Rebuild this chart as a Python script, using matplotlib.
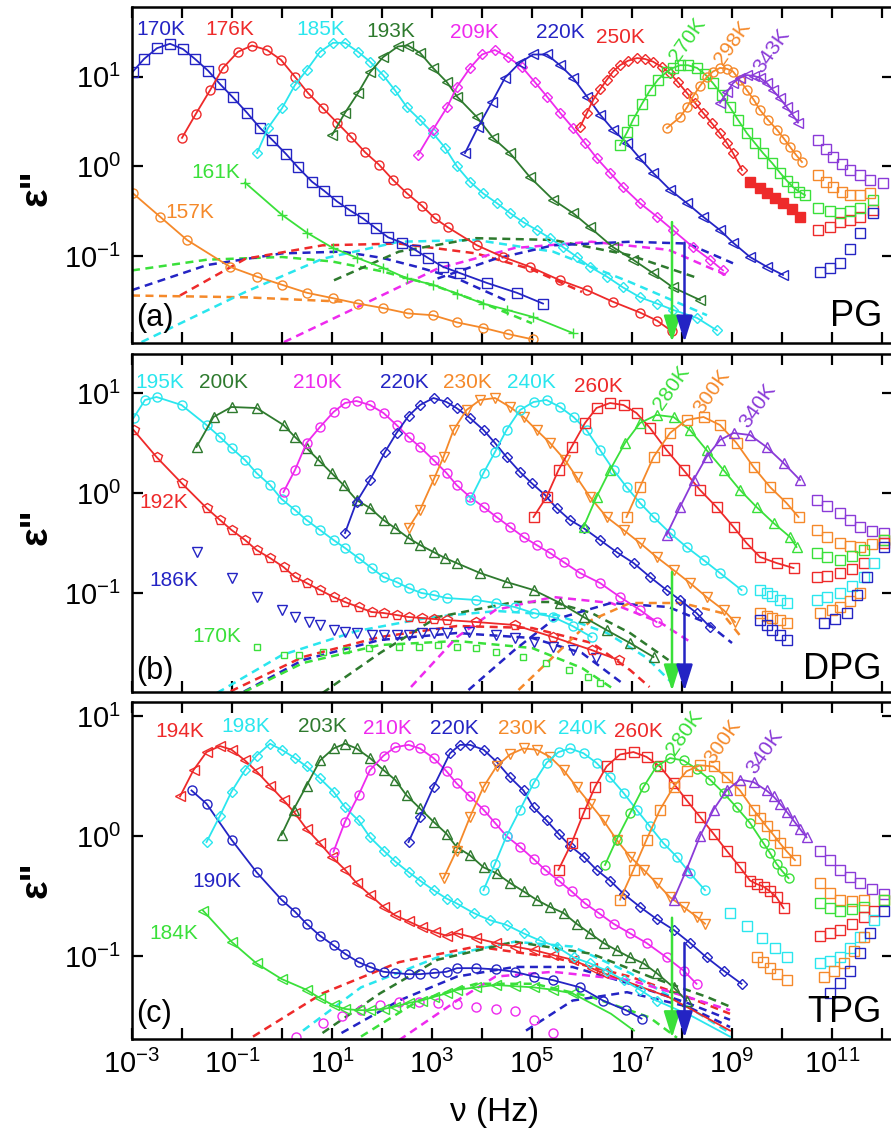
import numpy as np
import matplotlib
matplotlib.use("Agg")
import matplotlib.pyplot as plt
from matplotlib.ticker import LogLocator, FuncFormatter, NullLocator

plt.rcParams['font.family'] = ['Liberation Sans', 'DejaVu Sans']
plt.rcParams['mathtext.default'] = 'regular'

BLUE = '#2424c4'
RED = '#ee2a2a'
CYAN = '#2ae6ee'
DKGREEN = '#2e7a2e'
MAGENTA = '#ee2aee'
GREEN = '#3ae03a'
ORANGE = '#f5892a'
PURPLE = '#8a3ad8'

# all points are (log10 nu, log10 eps'')
# ---------------- panel (a) PG ----------------
a_170 = [(-2.98, 1.06), (-2.76, 1.20), (-2.5, 1.32), (-2.24, 1.37), (-1.98, 1.31), (-1.74, 1.2), (-1.48, 1.07),
         (-1.24, 0.92), (-0.98, 0.77), (-0.7, 0.60), (-0.44, 0.43), (-0.2, 0.30), (0.08, 0.14), (0.32, -0.01),
         (0.6, -0.17), (0.84, -0.27), (1.1, -0.39), (1.36, -0.49), (1.62, -0.58), (1.88, -0.69), (2.12, -0.79),
         (2.4, -0.85), (2.66, -0.93), (2.92, -1.02), (3.22, -1.12), (3.56, -1.19), (4.1, -1.30), (4.7, -1.41),
         (5.22, -1.53)]
a_176 = [(-2.0, 0.32), (-1.72, 0.59), (-1.44, 0.85), (-1.18, 1.10), (-0.88, 1.28), (-0.6, 1.35), (-0.3, 1.30),
         (-0.02, 1.19), (0.26, 1.0), (0.52, 0.82), (0.82, 0.65), (1.1, 0.49), (1.38, 0.33), (1.66, 0.16),
         (1.94, 0.02), (2.22, -0.15), (2.5, -0.30), (2.8, -0.44), (3.06, -0.58), (3.32, -0.68), (3.9, -0.88),
         (4.42, -1.01), (4.96, -1.12), (5.56, -1.27), (6.1, -1.38), (6.62, -1.51), (7.16, -1.63), (7.5, -1.72),
         (7.8, -1.84)]
a_185 = [(-0.5, 0.15), (-0.28, 0.43), (0.0, 0.65), (0.26, 0.91), (0.5, 1.08), (0.76, 1.28), (1.02, 1.38),
         (1.26, 1.38), (1.52, 1.28), (1.76, 1.17), (2.02, 1.02), (2.26, 0.85), (2.5, 0.66), (2.76, 0.52),
         (3.02, 0.37), (3.26, 0.21), (3.5, 0.0), (3.76, -0.17), (4.02, -0.30), (4.3, -0.41), (4.56, -0.52),
         (4.82, -0.62), (5.1, -0.71), (5.36, -0.80), (5.62, -0.90), (5.9, -1.01), (6.16, -1.12), (6.5, -1.23),
         (6.82, -1.35), (7.16, -1.46), (7.5, -1.53), (7.82, -1.60), (8.3, -1.69), (8.7, -1.83)]
a_193 = [(1.0, 0.35), (1.26, 0.60), (1.52, 0.82), (1.76, 1.05), (2.02, 1.22), (2.32, 1.34), (2.52, 1.35),
         (2.76, 1.27), (3.02, 1.10), (3.3, 0.94), (3.5, 0.78), (3.9, 0.55), (4.22, 0.32), (4.56, 0.15),
         (4.96, -0.12), (5.42, -0.37), (5.82, -0.52), (6.16, -0.68), (6.62, -0.90), (7.02, -1.04),
         (7.42, -1.19), (7.82, -1.35), (8.36, -1.49)]
a_209 = [(2.72, 0.13), (3.02, 0.41), (3.3, 0.66), (3.5, 0.89), (3.76, 1.10), (4.0, 1.25), (4.26, 1.30),
         (4.52, 1.22), (4.8, 1.11), (5.06, 0.94), (5.3, 0.78), (5.56, 0.60), (5.82, 0.43), (6.06, 0.26),
         (6.3, 0.09), (6.56, -0.07), (6.82, -0.23), (7.16, -0.41), (7.5, -0.56), (7.82, -0.71), (8.22, -0.90),
         (8.56, -1.04), (8.82, -1.16)]
a_220 = [(3.66, 0.15), (3.92, 0.44), (4.2, 0.72), (4.46, 0.99), (4.76, 1.16), (5.02, 1.25), (5.3, 1.25),
         (5.56, 1.13), (5.82, 0.99), (6.1, 0.78), (6.36, 0.58), (6.62, 0.41), (6.9, 0.26), (7.16, 0.09),
         (7.42, -0.07), (7.76, -0.26), (8.1, -0.41), (8.42, -0.56), (8.76, -0.71), (9.02, -0.85), (9.36, -1.01),
         (9.7, -1.12), (10.02, -1.21)]
a_250 = [(5.96, 0.44), (6.1, 0.6), (6.22, 0.74), (6.36, 0.86), (6.5, 0.97), (6.62, 1.06), (6.76, 1.13),
         (6.92, 1.18), (7.1, 1.21), (7.26, 1.20), (7.42, 1.17), (7.6, 1.11), (7.76, 1.04), (7.92, 0.94),
         (8.1, 0.82), (8.26, 0.71), (8.42, 0.60), (8.6, 0.48), (8.76, 0.37), (8.9, 0.26), (9.02, 0.15),
         (9.2, -0.04)]
a_250_mid = [(9.36, -0.17), (9.55, -0.24), (9.7, -0.30), (9.85, -0.35), (10.02, -0.41), (10.2, -0.48),
             (10.36, -0.56)]
a_250_hf = [(10.72, -0.71), (10.95, -0.68), (11.16, -0.62), (11.36, -0.60), (11.56, -0.56), (11.82, -0.49)]
a_270 = [(6.76, 0.24), (6.9, 0.38), (7.02, 0.52), (7.2, 0.70), (7.36, 0.85), (7.52, 0.97), (7.7, 1.06),
         (7.82, 1.10), (7.96, 1.13), (8.12, 1.13), (8.3, 1.10), (8.46, 1.03), (8.62, 0.93), (8.8, 0.80),
         (8.96, 0.66), (9.12, 0.52), (9.3, 0.37), (9.46, 0.26), (9.62, 0.15), (9.8, 0.04), (9.96, -0.07),
         (10.1, -0.16), (10.22, -0.23), (10.34, -0.28), (10.46, -0.32)]
a_270_hf = [(10.72, -0.46), (10.95, -0.50), (11.16, -0.52), (11.36, -0.50), (11.56, -0.46), (11.82, -0.37)]
a_298 = [(7.7, 0.43), (7.96, 0.55), (8.1, 0.66), (8.22, 0.78), (8.36, 0.90), (8.5, 1.0), (8.62, 1.06),
         (8.76, 1.10), (8.9, 1.09), (9.02, 1.06), (9.16, 0.96), (9.3, 0.85), (9.44, 0.74), (9.56, 0.63),
         (9.72, 0.52), (9.9, 0.41), (10.04, 0.31), (10.16, 0.22), (10.28, 0.13), (10.4, 0.05)]
a_298_hf = [(10.72, -0.09), (10.88, -0.17), (11.02, -0.23), (11.2, -0.28), (11.36, -0.32), (11.56, -0.32),
            (11.76, -0.30)]
a_343 = [(8.76, 0.71), (8.9, 0.83), (9.02, 0.93), (9.16, 0.99), (9.3, 1.02), (9.44, 1.01), (9.56, 0.99),
         (9.7, 0.93), (9.82, 0.85), (9.96, 0.76), (10.1, 0.66), (10.22, 0.57), (10.32, 0.49)]
a_343_hf = [(10.72, 0.30), (10.88, 0.20), (11.02, 0.11), (11.2, 0.03), (11.36, -0.04), (11.56, -0.10),
            (11.76, -0.15), (12.02, -0.18)]
a_220_hf = [(10.76, -1.18), (10.96, -1.13), (11.16, -1.08), (11.36, -0.92), (11.56, -0.74), (11.82, -0.52)]
a_161 = [(-0.74, -0.18), (0.0, -0.54), (0.5, -0.74), (1.02, -0.91), (1.5, -1.02), (2.02, -1.13), (2.5, -1.25),
         (3.02, -1.32), (3.5, -1.42), (4.02, -1.53), (4.5, -1.60), (5.02, -1.68), (5.82, -1.86)]
a_157 = [(-2.98, -0.30), (-2.44, -0.56), (-1.9, -0.82), (-1.04, -1.12), (-0.5, -1.23), (0.0, -1.32),
         (0.5, -1.41), (1.02, -1.47), (1.52, -1.53), (2.02, -1.58), (2.52, -1.64), (3.02, -1.66), (3.5, -1.74),
         (4.02, -1.80), (4.52, -1.87), (5.02, -1.93)]
# dashed secondary-relaxation components
ad_161 = [(-3.0, -1.16), (-1.5, -1.04), (0.0, -1.01), (1.0, -1.06), (2.0, -1.17), (3.0, -1.32), (4.0, -1.52),
          (5.0, -1.75)]
ad_170 = [(-3.0, -1.38), (-1.5, -1.10), (0.0, -0.97), (1.2, -0.95), (2.0, -1.02), (2.7, -1.12), (3.5, -1.25),
          (4.5, -1.5)]
ad_176 = [(-2.04, -1.44), (-0.73, -1.03), (0.81, -0.88), (2.34, -0.86), (3.88, -0.97), (5.0, -1.15), (6.0, -1.4)]
ad_157 = [(-3.0, -1.44), (-0.73, -1.46), (1.27, -1.51)]
ad_185 = [(-2.81, -1.96), (-0.73, -1.40), (0.81, -1.03), (2.34, -0.84), (3.88, -0.82), (5.42, -0.95),
          (6.96, -1.29), (8.5, -1.66)]
ad_193 = [(1.04, -1.27), (2.34, -0.95), (3.88, -0.80), (5.42, -0.82), (6.96, -0.99), (8.34, -1.25)]
ad_209 = [(0.04, -1.96), (1.58, -1.55), (3.11, -1.14), (4.65, -0.91), (6.19, -0.84), (7.73, -0.93),
          (8.96, -1.23)]
ad_220 = [(3.11, -1.25), (4.27, -1.03), (5.42, -0.88), (6.96, -0.84), (8.11, -0.86), (9.02, -1.08)]
a_arrows = [(7.8, -0.62, GREEN), (8.05, -0.85, BLUE)]

# ---------------- panel (b) DPG ----------------
b_195 = [(-2.97, 0.75), (-2.74, 0.93), (-2.51, 0.96), (-2.01, 0.88), (-1.51, 0.68), (-1.24, 0.56),
         (-1.01, 0.45), (-0.74, 0.33), (-0.51, 0.20), (-0.24, 0.08), (-0.01, -0.06), (0.26, -0.17),
         (0.49, -0.27), (0.76, -0.37), (1.03, -0.47), (1.26, -0.55), (1.53, -0.65), (1.79, -0.75),
         (2.03, -0.84), (2.29, -0.89), (2.53, -0.95), (2.79, -1.0), (3.03, -1.02), (3.29, -1.05), (3.88, -1.07),
         (4.27, -1.10), (4.65, -1.14), (5.03, -1.20), (5.42, -1.24), (5.81, -1.33), (6.19, -1.44)]
b_200 = [(-1.71, 0.46), (-1.37, 0.76), (-1.01, 0.86), (-0.51, 0.85), (0.03, 0.68), (0.26, 0.56), (0.49, 0.45),
         (0.73, 0.33), (0.99, 0.20), (1.23, 0.08), (1.49, -0.07), (1.76, -0.15), (2.03, -0.27), (2.26, -0.35),
         (2.53, -0.45), (2.76, -0.52), (3.03, -0.59), (3.26, -0.65), (3.49, -0.70), (3.96, -0.80),
         (4.49, -0.89), (5.03, -0.97), (5.56, -1.10), (6.03, -1.24), (6.49, -1.37), (6.96, -1.50),
         (7.43, -1.64)]
b_210 = [(0.03, 0.01), (0.26, 0.23), (0.49, 0.50), (0.76, 0.66), (1.03, 0.81), (1.26, 0.90), (1.49, 0.92),
         (1.76, 0.88), (2.03, 0.80), (2.29, 0.68), (2.53, 0.56), (2.76, 0.46), (3.03, 0.33), (3.29, 0.20),
         (3.49, 0.08), (3.76, -0.04), (4.03, -0.14), (4.29, -0.24), (4.56, -0.34), (4.83, -0.44), (5.09, -0.52),
         (5.36, -0.60), (5.63, -0.69), (5.96, -0.80), (6.36, -0.90), (6.76, -1.04), (7.16, -1.17), (7.49, -1.29)]
b_220 = [(1.26, -0.40), (1.49, -0.09), (1.76, 0.13), (2.06, 0.41), (2.29, 0.60), (2.53, 0.77), (2.76, 0.88),
         (3.03, 0.95), (3.29, 0.91), (3.49, 0.85), (3.76, 0.75), (4.03, 0.63), (4.26, 0.50), (4.49, 0.36),
         (4.76, 0.21), (4.99, 0.10), (5.26, -0.02), (5.49, -0.15), (5.76, -0.27), (6.03, -0.35), (6.36, -0.47),
         (6.69, -0.59), (7.03, -0.70), (7.36, -0.84), (7.69, -0.97), (7.96, -1.07), (8.29, -1.20), (8.56, -1.34)]
b_230 = [(2.53, -0.35), (2.76, -0.17), (3.03, 0.13), (3.23, 0.36), (3.43, 0.63), (3.69, 0.83), (3.96, 0.93),
         (4.26, 0.95), (4.56, 0.86), (4.83, 0.76), (5.09, 0.63), (5.36, 0.50), (5.66, 0.33), (5.89, 0.16),
         (6.16, -0.04), (6.49, -0.24), (6.83, -0.37), (7.16, -0.50), (7.49, -0.64), (7.83, -0.77), (8.16, -0.90),
         (8.49, -1.04), (8.83, -1.17), (9.06, -1.29)]
b_240 = [(3.76, -0.07), (4.03, 0.20), (4.26, 0.41), (4.49, 0.63), (4.76, 0.83), (5.03, 0.91), (5.29, 0.93),
         (5.56, 0.86), (5.83, 0.76), (6.09, 0.63), (6.36, 0.43), (6.63, 0.23), (6.89, 0.06), (7.16, -0.10),
         (7.43, -0.24), (7.76, -0.40), (8.09, -0.54), (8.43, -0.67), (8.76, -0.80), (9.19, -0.97)]
b_260 = [(5.03, -0.24), (5.29, -0.04), (5.53, 0.23), (5.79, 0.46), (6.06, 0.70), (6.29, 0.85), (6.56, 0.90),
         (6.83, 0.88), (7.09, 0.80), (7.36, 0.65), (7.69, 0.43), (8.03, 0.23), (8.36, 0.03), (8.69, -0.14),
         (9.03, -0.34), (9.29, -0.50), (9.56, -0.64), (9.89, -0.70), (10.23, -0.75)]
b_280 = [(6.03, -0.34), (6.29, -0.04), (6.56, 0.23), (6.86, 0.50), (7.16, 0.70), (7.49, 0.78), (7.83, 0.76),
         (8.16, 0.63), (8.49, 0.43), (8.83, 0.23), (9.16, 0.03), (9.49, -0.14), (9.83, -0.30), (10.16, -0.44),
         (10.29, -0.54)]
b_300 = [(6.89, -0.24), (7.16, 0.06), (7.43, 0.36), (7.76, 0.60), (8.09, 0.73), (8.43, 0.76), (8.76, 0.68),
         (9.09, 0.50), (9.43, 0.26), (9.76, 0.06), (10.09, -0.10), (10.33, -0.24)]
b_340 = [(7.69, -0.42), (7.96, -0.14), (8.23, 0.13), (8.49, 0.36), (8.76, 0.53), (9.03, 0.60), (9.36, 0.58),
         (9.69, 0.46), (10.03, 0.30), (10.36, 0.13)]
b_192 = [(-2.97, 0.63), (-2.51, 0.36), (-2.01, 0.10), (-1.51, -0.15), (-1.24, -0.27), (-1.01, -0.37),
         (-0.74, -0.47), (-0.51, -0.57), (-0.24, -0.65), (0.03, -0.74), (0.26, -0.84), (0.49, -0.90),
         (0.76, -0.97), (1.03, -1.04), (1.26, -1.09), (1.53, -1.14), (1.79, -1.19), (2.03, -1.20), (2.29, -1.22),
         (2.53, -1.24), (2.79, -1.25), (3.03, -1.26), (3.29, -1.27), (3.88, -1.29), (4.65, -1.32), (5.42, -1.44),
         (6.19, -1.57), (6.73, -1.67)]
b_186 = [(-1.71, -0.59), (-1.01, -0.85), (-0.51, -1.04), (-0.01, -1.17), (0.26, -1.24), (0.53, -1.29),
         (0.76, -1.32), (1.03, -1.37), (1.26, -1.39), (1.49, -1.40), (1.79, -1.42), (2.03, -1.42), (2.29, -1.42),
         (2.53, -1.42), (2.79, -1.40), (3.03, -1.40), (3.29, -1.40), (3.73, -1.39), (4.27, -1.42), (4.65, -1.45),
         (5.04, -1.49), (5.42, -1.54), (5.81, -1.57), (6.27, -1.65)]
b_170 = [(-0.5, -1.54), (0.04, -1.62), (0.34, -1.62), (0.81, -1.59), (1.27, -1.57), (1.73, -1.55), (2.34, -1.54),
         (2.73, -1.54), (3.11, -1.52), (3.5, -1.54), (3.88, -1.55), (4.27, -1.59), (4.81, -1.64), (5.27, -1.70),
         (5.73, -1.77), (6.11, -1.84), (6.35, -1.90)]
bh_340 = [(10.69, -0.07), (10.9, -0.13), (11.16, -0.20), (11.36, -0.27), (11.56, -0.34), (11.8, -0.38),
          (12.03, -0.40)]
bh_300 = [(10.69, -0.37), (10.9, -0.44), (11.16, -0.50), (11.36, -0.53), (11.56, -0.54), (11.8, -0.51),
          (12.03, -0.47)]
bh_280 = [(10.69, -0.60), (10.9, -0.64), (11.16, -0.67), (11.4, -0.63), (11.63, -0.57), (12.03, -0.47)]
bh_260 = [(10.69, -0.84), (10.9, -0.83), (11.16, -0.80), (11.4, -0.76), (11.63, -0.70), (12.03, -0.50)]
bh_240 = [(10.69, -1.07), (10.9, -1.04), (11.16, -1.0), (11.4, -0.93), (11.63, -0.84), (11.83, -0.70)]
bh_230 = [(10.76, -1.20), (11.0, -1.17), (11.16, -1.14), (11.36, -1.08), (11.56, -1.0)]
bh_220 = [(10.83, -1.30), (11.06, -1.26), (11.29, -1.20), (11.49, -1.02), (11.69, -0.84), (12.03, -0.54)]
bm_240 = [(9.56, -0.97), (9.7, -1.0), (9.8, -1.03), (9.95, -1.07), (10.09, -1.10)]
bm_230 = [(9.56, -1.20), (9.7, -1.23), (9.8, -1.25), (9.95, -1.27), (10.09, -1.30)]
bm_220 = [(9.56, -1.27), (9.7, -1.32), (9.8, -1.37), (9.95, -1.42), (10.09, -1.47)]
bd_195 = [(-1.3, -2.0), (0.0, -1.62), (1.5, -1.38), (3.0, -1.24), (4.3, -1.18), (5.5, -1.22), (6.5, -1.40),
          (7.3, -1.65), (7.8, -1.9)]
bd_192 = [(-1.27, -2.04), (0.42, -1.64), (1.96, -1.44), (3.5, -1.33), (5.0, -1.35), (6.2, -1.50), (6.96, -1.77),
          (7.35, -1.94)]
bd_186 = [(-1.0, -2.05), (0.42, -1.67), (1.96, -1.47), (3.5, -1.40), (5.0, -1.45), (6.0, -1.6), (6.8, -1.9)]
bd_170 = [(-1.0, -2.05), (0.42, -1.70), (1.96, -1.52), (3.5, -1.48), (5.0, -1.55), (6.0, -1.75), (6.6, -1.95)]
bd_200 = [(0.81, -2.0), (1.96, -1.6), (3.11, -1.24), (4.65, -1.09), (5.42, -1.09), (6.19, -1.2), (6.96, -1.4),
          (7.73, -1.67)]
bd_210 = [(2.58, -1.94), (3.5, -1.44), (4.27, -1.17), (5.42, -1.04), (6.58, -1.10), (7.58, -1.30), (8.2, -1.5)]
bd_220 = [(3.73, -1.97), (4.65, -1.57), (5.42, -1.27), (6.58, -1.10), (7.73, -1.14), (8.5, -1.30), (9.0, -1.5)]
bd_230 = [(4.73, -1.97), (5.42, -1.64), (6.19, -1.27), (6.96, -1.10), (8.0, -1.10), (8.8, -1.2), (9.2, -1.45)]
b_arrows = [(7.8, -0.79, GREEN), (8.05, -1.07, BLUE)]

# ---------------- panel (c) TPG ----------------
c_194 = [(-2.04, 0.33), (-1.77, 0.55), (-1.51, 0.70), (-1.24, 0.75), (-1.01, 0.72), (-0.74, 0.63), (-0.51, 0.54),
         (-0.24, 0.42), (0.03, 0.30), (0.26, 0.19), (0.49, 0.06), (0.76, -0.06), (0.99, -0.17), (1.26, -0.28),
         (1.49, -0.39), (1.76, -0.49), (2.03, -0.59), (2.26, -0.66), (2.53, -0.71), (2.79, -0.76), (3.06, -0.80),
         (3.29, -0.83), (3.5, -0.81), (3.88, -0.85), (4.27, -0.89), (4.65, -0.92), (5.04, -0.95), (5.42, -0.99),
         (5.81, -1.03), (6.19, -1.10), (6.42, -1.14)]
c_194_fit = [(6.42, -1.14), (7.73, -1.34), (8.96, -1.62)]
c_198 = [(-1.51, -0.05), (-1.24, 0.17), (-1.01, 0.37), (-0.74, 0.55), (-0.51, 0.67), (-0.24, 0.77),
         (-0.01, 0.72), (0.26, 0.65), (0.49, 0.58), (0.76, 0.48), (1.03, 0.37), (1.26, 0.24), (1.53, 0.13),
         (1.76, -0.01), (2.03, -0.12), (2.26, -0.21), (2.53, -0.30), (2.76, -0.37), (3.03, -0.45), (3.29, -0.52),
         (3.49, -0.56), (3.83, -0.64), (4.16, -0.70), (4.49, -0.74), (4.83, -0.81), (5.16, -0.87), (5.49, -0.92),
         (5.83, -1.01), (6.16, -1.06), (6.49, -1.12), (6.83, -1.20), (7.16, -1.28), (7.49, -1.37)]
c_198_fit = [(7.49, -1.37), (8.2, -1.5), (8.96, -1.67)]
c_203 = [(-0.01, 0.01), (0.23, 0.22), (0.49, 0.42), (0.76, 0.63), (1.03, 0.73), (1.26, 0.77), (1.49, 0.73),
         (1.76, 0.65), (2.03, 0.55), (2.26, 0.47), (2.49, 0.34), (2.76, 0.23), (3.03, 0.12), (3.29, 0.02),
         (3.49, -0.09), (3.76, -0.16), (4.03, -0.26), (4.29, -0.31), (4.56, -0.39), (4.83, -0.46), (5.09, -0.53),
         (5.36, -0.59), (5.63, -0.64), (5.89, -0.73), (6.16, -0.81), (6.43, -0.89), (6.69, -0.95), (6.96, -1.01),
         (7.23, -1.06), (7.49, -1.14), (7.83, -1.26), (8.09, -1.37)]
c_210 = [(1.03, -0.13), (1.26, 0.12), (1.53, 0.34), (1.76, 0.55), (2.03, 0.67), (2.26, 0.74), (2.53, 0.76),
         (2.76, 0.73), (3.03, 0.65), (3.29, 0.54), (3.49, 0.44), (3.76, 0.33), (4.03, 0.22), (4.26, 0.11),
         (4.49, 0.0), (4.76, -0.09), (5.03, -0.19), (5.26, -0.28), (5.53, -0.37), (5.79, -0.46), (6.06, -0.56),
         (6.33, -0.64), (6.63, -0.73), (6.96, -0.81), (7.29, -0.89), (7.69, -1.01), (8.03, -1.12), (8.29, -1.23)]
c_220 = [(2.53, -0.05), (2.76, 0.16), (3.03, 0.41), (3.36, 0.69), (3.56, 0.76), (3.76, 0.76), (4.03, 0.72),
         (4.29, 0.62), (4.56, 0.49), (4.83, 0.38), (5.03, 0.24), (5.29, 0.13), (5.53, 0.02), (5.76, -0.08),
         (6.03, -0.17), (6.29, -0.28), (6.56, -0.37), (6.83, -0.48), (7.16, -0.59), (7.49, -0.69), (7.83, -0.78),
         (8.16, -0.89), (8.49, -1.01), (8.83, -1.12), (9.19, -1.23)]
c_230 = [(3.23, -0.35), (3.49, -0.12), (3.76, 0.16), (4.03, 0.41), (4.29, 0.58), (4.56, 0.68), (4.83, 0.73),
         (5.09, 0.72), (5.36, 0.66), (5.63, 0.55), (5.89, 0.41), (6.16, 0.27), (6.43, 0.13), (6.69, -0.03),
         (6.96, -0.17), (7.23, -0.28), (7.49, -0.39), (7.76, -0.51), (8.03, -0.59), (8.29, -0.67), (8.46, -0.73)]
c_240 = [(4.03, -0.45), (4.26, -0.23), (4.49, 0.0), (4.76, 0.22), (5.03, 0.44), (5.29, 0.61), (5.53, 0.70),
         (5.76, 0.73), (6.03, 0.69), (6.29, 0.61), (6.56, 0.49), (6.83, 0.36), (7.09, 0.22), (7.36, 0.08),
         (7.63, -0.06), (7.89, -0.17), (8.16, -0.31), (8.46, -0.45)]
c_260 = [(5.53, -0.28), (5.79, -0.06), (6.03, 0.19), (6.26, 0.41), (6.49, 0.58), (6.76, 0.68), (7.03, 0.70),
         (7.29, 0.66), (7.56, 0.58), (7.83, 0.44), (8.09, 0.30), (8.36, 0.16), (8.63, 0.02), (8.89, -0.12),
         (9.16, -0.26), (9.36, -0.37), (9.5, -0.40), (9.63, -0.42), (9.76, -0.46), (9.89, -0.51), (10.03, -0.60)]
c_280 = [(6.46, -0.24), (6.69, -0.03), (6.96, 0.19), (7.23, 0.41), (7.49, 0.58), (7.76, 0.65), (8.03, 0.63),
         (8.29, 0.56), (8.56, 0.47), (8.83, 0.36), (9.09, 0.24), (9.36, 0.11), (9.63, -0.06), (9.76, -0.14),
         (9.89, -0.23), (10.0, -0.29), (10.13, -0.35)]
c_300 = [(6.76, -0.53), (7.03, -0.28), (7.29, -0.03), (7.56, 0.22), (7.83, 0.41), (8.09, 0.54), (8.36, 0.59),
         (8.63, 0.58), (8.89, 0.49), (9.16, 0.38), (9.43, 0.22), (9.56, 0.15), (9.69, 0.08), (9.83, 0.01),
         (9.96, -0.06), (10.1, -0.13), (10.26, -0.20)]
c_340 = [(7.83, -0.53), (8.09, -0.28), (8.36, 0.0), (8.63, 0.22), (8.89, 0.38), (9.16, 0.47), (9.43, 0.45),
         (9.69, 0.38), (9.83, 0.33), (9.96, 0.27), (10.1, 0.20), (10.23, 0.13), (10.36, 0.06), (10.49, -0.01)]
c_190 = [(-1.81, 0.38), (-1.51, 0.27), (-1.01, -0.03), (-0.51, -0.30), (-0.01, -0.53), (0.26, -0.63),
         (0.49, -0.73), (0.76, -0.83), (1.03, -0.91), (1.26, -0.98), (1.53, -1.05), (1.76, -1.09), (2.03, -1.13),
         (2.26, -1.14), (2.53, -1.15), (2.76, -1.15), (3.03, -1.14), (3.29, -1.13), (3.5, -1.10), (3.88, -1.10),
         (4.27, -1.11), (4.65, -1.13), (5.04, -1.17), (5.42, -1.20), (5.96, -1.26), (6.42, -1.37), (6.88, -1.45),
         (7.19, -1.52)]
c_184 = [(-1.58, -0.62), (-1.01, -0.88), (-0.51, -1.06), (-0.01, -1.19), (0.49, -1.28), (0.76, -1.35),
         (1.03, -1.41), (1.26, -1.44), (1.53, -1.45), (1.76, -1.45), (2.03, -1.44), (2.26, -1.42), (2.53, -1.39),
         (2.79, -1.37), (3.03, -1.34), (3.29, -1.31), (3.5, -1.28), (3.88, -1.26), (4.27, -1.24), (4.65, -1.25),
         (5.04, -1.26), (5.42, -1.28), (5.81, -1.31)]
c_184_fit = [(5.81, -1.31), (6.58, -1.48), (7.04, -1.62)]
c_low = [(0.27, -1.67), (0.81, -1.56), (1.2, -1.50), (1.58, -1.45), (1.96, -1.41), (2.34, -1.38), (2.73, -1.38),
         (3.11, -1.39), (3.5, -1.40), (3.88, -1.42), (4.27, -1.44), (4.65, -1.46), (5.04, -1.53), (5.42, -1.64)]
ch_340 = [(10.76, -0.12), (10.96, -0.20), (11.16, -0.28), (11.36, -0.34), (11.56, -0.39), (11.8, -0.44),
          (12.03, -0.48)]
ch_300 = [(10.76, -0.39), (10.96, -0.47), (11.16, -0.53), (11.4, -0.54), (11.63, -0.53), (12.03, -0.53)]
ch_280 = [(10.76, -0.56), (10.96, -0.60), (11.16, -0.62), (11.4, -0.61), (11.63, -0.59), (12.03, -0.53)]
ch_260 = [(10.76, -0.83), (10.96, -0.81), (11.16, -0.78), (11.4, -0.73), (11.63, -0.67), (11.83, -0.62)]
ch_240 = [(10.76, -1.06), (10.96, -1.04), (11.16, -1.01), (11.36, -0.93), (11.56, -0.84), (11.83, -0.70)]
ch_230 = [(10.83, -1.17), (11.03, -1.12), (11.23, -1.06), (11.43, -0.96), (11.63, -0.84)]
ch_220 = [(10.96, -1.31), (11.16, -1.22), (11.36, -1.12), (11.56, -0.97), (11.76, -0.81), (12.03, -0.62)]
cm_240 = [(8.96, -0.64), (9.3, -0.75), (9.6, -0.85), (9.85, -0.93), (10.09, -1.01)]
cm_230 = [(9.49, -1.01), (9.62, -1.05), (9.75, -1.10), (9.9, -1.15), (10.09, -1.20)]
cd_194 = [(-0.58, -1.67), (0.81, -1.31), (2.34, -1.05), (3.88, -0.92), (5.42, -1.01), (6.96, -1.17),
          (8.11, -1.34), (8.96, -1.48)]
cd_198 = [(0.42, -1.62), (1.58, -1.26), (3.11, -1.01), (4.65, -0.88), (5.81, -0.92), (6.96, -1.14),
          (8.11, -1.42), (8.96, -1.64)]
cd_203 = [(0.81, -1.64), (1.96, -1.31), (3.11, -1.03), (4.65, -0.88), (6.19, -0.98), (7.35, -1.17),
          (8.5, -1.34), (8.96, -1.42)]
cd_190 = [(1.19, -1.64), (2.34, -1.37), (3.5, -1.17), (4.65, -1.09), (5.81, -1.09), (6.96, -1.23),
          (8.11, -1.39), (8.96, -1.53)]
cd_184 = [(1.58, -1.67), (2.73, -1.37), (3.88, -1.23), (5.04, -1.23), (6.19, -1.34), (7.35, -1.51), (7.9, -1.68)]
cd_210 = [(2.34, -1.70), (3.5, -1.37), (4.27, -1.17), (5.42, -1.13), (6.96, -1.20), (8.11, -1.34),
          (8.96, -1.45)]
cd_220 = [(4.88, -1.62), (5.81, -1.37), (6.9, -1.30), (8.11, -1.42), (8.96, -1.59)]
c_arrows = [(7.8, -0.68, GREEN), (8.05, -0.89, BLUE)]

# (text, log nu, log eps, colour, rotation)
a_labels = [('170K', -2.42, 1.525, BLUE, 0), ('176K', -1.04, 1.525, RED, 0), ('185K', 0.78, 1.525, CYAN, 0),
            ('193K', 2.18, 1.51, DKGREEN, 0), ('209K', 3.84, 1.49, MAGENTA, 0), ('220K', 5.56, 1.49, BLUE, 0),
            ('250K', 6.76, 1.44, RED, 0), ('270K', 8.12, 1.41, GREEN, 55), ('298K', 9.0, 1.38, ORANGE, 55),
            ('343K', 9.8, 1.29, PURPLE, 55), ('161K', -1.32, -0.07, GREEN, 0), ('157K', -1.84, -0.51, ORANGE, 0)]
b_labels = [('195K', -2.44, 1.10, CYAN, 0), ('200K', -1.16, 1.10, DKGREEN, 0), ('210K', 0.70, 1.10, MAGENTA, 0),
            ('220K', 2.44, 1.11, BLUE, 0), ('230K', 3.70, 1.11, ORANGE, 0), ('240K', 4.98, 1.11, CYAN, 0),
            ('260K', 6.32, 1.06, RED, 0), ('280K', 7.8, 1.05, GREEN, 55), ('300K', 8.6, 1.01, ORANGE, 55),
            ('340K', 9.52, 0.87, PURPLE, 55), ('192K', -2.36, -0.10, RED, 0), ('186K', -2.16, -0.87, BLUE, 0),
            ('170K', -1.30, -1.44, GREEN, 0)]
c_labels = [('194K', -2.04, 0.87, RED, 0), ('198K', -0.72, 0.91, CYAN, 0), ('203K', 0.8, 0.91, DKGREEN, 0),
            ('210K', 2.1, 0.90, MAGENTA, 0), ('220K', 3.44, 0.90, BLUE, 0), ('230K', 4.8, 0.90, ORANGE, 0),
            ('240K', 6.0, 0.90, CYAN, 0), ('260K', 7.12, 0.87, RED, 0), ('280K', 8.06, 0.86, GREEN, 55),
            ('300K', 8.82, 0.79, ORANGE, 55), ('340K', 9.66, 0.70, PURPLE, 55), ('190K', -1.30, -0.38, BLUE, 0),
            ('184K', -2.16, -0.81, GREEN, 0)]


def draw(ax, pts, color, marker='', ls='-', ms=6.5, filled=False, lw=1.3):
    lf, le = zip(*pts)
    ax.plot(10 ** np.array(lf), 10 ** np.array(le), ls=ls, lw=lw, color=color, marker=marker, ms=ms,
            mfc=color if filled else 'none', mec=color, mew=1.0)


def dashed(ax, pts, color):
    draw(ax, pts, color, ls=(0, (3.2, 2.2)), lw=1.8)


def arrows(ax, items, ybottom):
    for lf, ltop, col in items:
        ax.annotate('', xy=(10 ** lf, 10 ** ybottom), xytext=(10 ** lf, 10 ** ltop),
                    arrowprops=dict(arrowstyle='-|>,head_length=0.8,head_width=0.25', color=col, lw=1.8,
                                    mutation_scale=20, shrinkA=0, shrinkB=0))


def labels(ax, items):
    for txt, lf, le, col, rot in items:
        ax.text(10 ** lf, 10 ** le, txt, color=col, fontsize=15, rotation=rot, ha='center', va='center')


fig = plt.figure(figsize=(8.91, 11.4), dpi=100)
L, W = 132 / 891, 761 / 891
ax_a = fig.add_axes([L, 797 / 1140, W, 336 / 1140])
ax_b = fig.add_axes([L, 448 / 1140, W, 338 / 1140])
ax_c = fig.add_axes([L, 101 / 1140, W, 337 / 1140])


def xfmt(v, pos):
    e = int(round(np.log10(v)))
    return '$10^{%d}$' % e if e % 2 else ''


for ax, ylo, yhi in [(ax_a, -1.97, 1.78), (ax_b, -1.99, 1.39), (ax_c, -1.69, 1.117)]:
    ax.set_xscale('log')
    ax.set_yscale('log')
    ax.set_xlim(1e-3, 10 ** 12.22)
    ax.set_ylim(10 ** ylo, 10 ** yhi)
    ax.xaxis.set_major_locator(LogLocator(base=10, numticks=40))
    ax.xaxis.set_minor_locator(NullLocator())
    ax.yaxis.set_major_locator(LogLocator(base=10, numticks=10))
    ax.yaxis.set_minor_locator(NullLocator())
    ax.xaxis.set_major_formatter(FuncFormatter(xfmt))
    ax.tick_params(which='major', direction='in', length=8, width=1.6, top=True, right=True,
                   labelsize=21, pad=8, labelfontfamily=['Liberation Sans Narrow', 'Liberation Sans'])
    for s in ax.spines.values():
        s.set_linewidth(1.8)
ax_a.tick_params(labelbottom=False)
ax_b.tick_params(labelbottom=False)

# panel (a)
for pts, col in [(ad_161, GREEN), (ad_170, BLUE), (ad_176, RED), (ad_157, ORANGE), (ad_185, CYAN),
                 (ad_193, DKGREEN), (ad_209, MAGENTA), (ad_220, BLUE)]:
    dashed(ax_a, pts, col)
draw(ax_a, a_157, ORANGE, 'o')
draw(ax_a, a_161, GREEN, '+', ms=7)
draw(ax_a, a_170, BLUE, 's')
draw(ax_a, a_176, RED, 'o')
draw(ax_a, a_185, CYAN, 'D', ms=5.5)
draw(ax_a, a_193, DKGREEN, '<')
draw(ax_a, a_209, MAGENTA, 'D', ms=5.5)
draw(ax_a, a_220, BLUE, '<')
draw(ax_a, a_250, RED, 'D', ms=5.5)
draw(ax_a, a_270, GREEN, 's')
draw(ax_a, a_298, ORANGE, 'o')
draw(ax_a, a_343, PURPLE, '<')
draw(ax_a, a_250_mid, RED, 's', ls='none', filled=True)
for pts, col in [(a_250_hf, RED), (a_270_hf, GREEN), (a_298_hf, ORANGE), (a_343_hf, PURPLE), (a_220_hf, BLUE)]:
    draw(ax_a, pts, col, 's', ls='none')
arrows(ax_a, a_arrows, -1.96)
labels(ax_a, a_labels)

# panel (b)
for pts, col in [(bd_195, CYAN), (bd_192, RED), (bd_186, BLUE), (bd_170, GREEN), (bd_200, DKGREEN),
                 (bd_210, MAGENTA), (bd_220, BLUE), (bd_230, ORANGE)]:
    dashed(ax_b, pts, col)
draw(ax_b, b_170, GREEN, 's', ls='none', ms=5)
draw(ax_b, b_186, BLUE, 'v', ls='none')
draw(ax_b, b_192, RED, 'p', ms=7)
draw(ax_b, b_195, CYAN, 'o')
draw(ax_b, b_200, DKGREEN, '^')
draw(ax_b, b_210, MAGENTA, 'o')
draw(ax_b, b_220, BLUE, 'D', ms=5.5)
draw(ax_b, b_230, ORANGE, 'v')
draw(ax_b, b_240, CYAN, 'o')
draw(ax_b, b_260, RED, 's')
draw(ax_b, b_280, GREEN, '^')
draw(ax_b, b_300, ORANGE, 's')
draw(ax_b, b_340, PURPLE, '^')
for pts, col in [(bh_340, PURPLE), (bh_300, ORANGE), (bh_280, GREEN), (bh_260, RED), (bh_240, CYAN),
                 (bh_230, ORANGE), (bh_220, BLUE), (bm_240, CYAN), (bm_230, ORANGE), (bm_220, BLUE)]:
    draw(ax_b, pts, col, 's', ls='none')
arrows(ax_b, b_arrows, -1.98)
labels(ax_b, b_labels)

# panel (c)
for pts, col in [(cd_194, RED), (cd_198, CYAN), (cd_203, DKGREEN), (cd_190, BLUE), (cd_184, GREEN),
                 (cd_210, MAGENTA), (cd_220, BLUE)]:
    dashed(ax_c, pts, col)
draw(ax_c, c_low, MAGENTA, 'o', ls='none')
draw(ax_c, c_184, GREEN, '<')
draw(ax_c, c_184_fit, GREEN)
draw(ax_c, c_190, BLUE, 'o')
draw(ax_c, c_194, RED, '<')
draw(ax_c, c_194_fit, RED)
draw(ax_c, c_198, CYAN, 'D', ms=5.5)
draw(ax_c, c_198_fit, CYAN)
draw(ax_c, c_203, DKGREEN, '^')
draw(ax_c, c_210, MAGENTA, 'o')
draw(ax_c, c_220, BLUE, 'D', ms=5.5)
draw(ax_c, c_230, ORANGE, 'v')
draw(ax_c, c_240, CYAN, 'o')
draw(ax_c, c_260, RED, 's')
draw(ax_c, c_280, GREEN, 'o')
draw(ax_c, c_300, ORANGE, 's')
draw(ax_c, c_340, PURPLE, '^')
for pts, col in [(ch_340, PURPLE), (ch_300, ORANGE), (ch_280, GREEN), (ch_260, RED), (ch_240, CYAN),
                 (ch_230, ORANGE), (ch_220, BLUE), (cm_240, CYAN), (cm_230, ORANGE)]:
    draw(ax_c, pts, col, 's', ls='none')
arrows(ax_c, c_arrows, -1.68)
labels(ax_c, c_labels)

# panel letters, sample names and axis titles
for txt, name, ybase, ylab in [('(a)', 'PG', 326, 188), ('(b)', 'DPG', 679, 527), ('(c)', 'TPG', 1022, 880)]:
    fig.text(136 / 891, 1 - ybase / 1140, txt, fontsize=22, va='baseline')
    fig.text(882 / 891, 1 - ybase / 1140, name, fontsize=26, va='baseline', ha='right')
    fig.text(36 / 891, 1 - ylab / 1140, 'ε"', fontsize=28, fontweight='bold', rotation=90,
             ha='center', va='center')
fig.text(495 / 891, 1 - 1112 / 1140, 'ν (Hz)', fontsize=24, ha='center', va='center')

fig.savefig('out.png', dpi=100)
